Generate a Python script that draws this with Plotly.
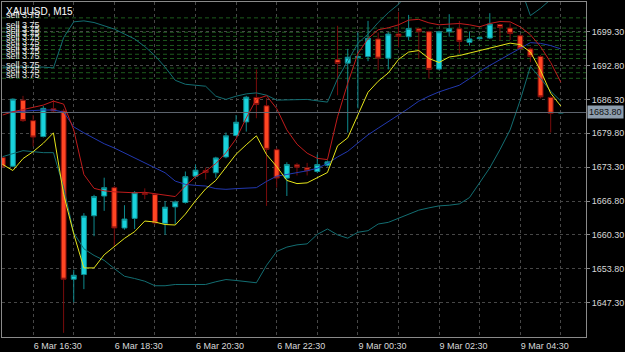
import pandas as pd
import plotly.graph_objects as go

# ---------------- data ----------------
symbol_title = "XAUUSD, M15"

friday = pd.date_range("2020-03-06 15:45", "2020-03-06 23:45", freq="15min")
monday = pd.date_range("2020-03-09 00:00", "2020-03-09 05:30", freq="15min")
bar_times = [f"{d.day} {d:%b} {d:%H:%M}" for d in list(friday) + list(monday)]

opens = [1675.14, 1673.48, 1686.17, 1682.23, 1679.19, 1684.52, 1684.08, 1651.79, 1652.69, 1663.97,
         1667.77, 1669.37, 1661.63, 1663.47, 1668.29, 1668.04, 1662.52, 1665.68, 1666.52, 1671.58,
         1672.66, 1672.23, 1675.27, 1679.38, 1681.99, 1686.69, 1685.09, 1676.66, 1671.20, 1673.75,
         1673.18, 1672.47, 1673.67, 1693.92, 1693.27, 1694.35, 1694.54, 1697.91, 1694.22, 1698.86,
         1698.35, 1699.87, 1699.30, 1692.13, 1699.30, 1699.87, 1697.26, 1697.97, 1698.10, 1700.69,
         1700.00, 1698.54, 1696.01, 1694.54, 1686.69, 1683.70]
highs = [1675.30, 1686.50, 1686.99, 1683.32, 1685.03, 1686.17, 1684.50, 1653.60, 1664.48, 1668.00,
         1671.28, 1669.70, 1666.00, 1668.70, 1669.24, 1668.30, 1666.77, 1666.90, 1672.47, 1673.80,
         1673.23, 1675.30, 1679.95, 1683.32, 1687.00, 1692.07, 1686.55, 1677.00, 1674.24, 1674.13,
         1674.13, 1675.71, 1674.60, 1700.44, 1696.01, 1699.17, 1701.39, 1699.17, 1699.20, 1703.11,
         1702.53, 1700.10, 1699.50, 1699.50, 1702.67, 1701.39, 1699.36, 1698.30, 1702.86, 1700.88,
         1700.88, 1698.80, 1696.30, 1694.80, 1686.90, 1683.85]
lows = [1673.20, 1673.30, 1682.00, 1677.29, 1679.00, 1683.70, 1641.50, 1647.36, 1649.89, 1660.05,
        1664.92, 1657.96, 1661.30, 1661.44, 1667.15, 1662.30, 1660.30, 1662.39, 1666.30, 1671.40,
        1670.95, 1671.27, 1675.00, 1679.20, 1680.14, 1682.69, 1665.87, 1669.37, 1667.77, 1671.71,
        1671.71, 1672.20, 1673.40, 1687.12, 1679.95, 1684.59, 1693.65, 1691.88, 1692.07, 1696.31,
        1697.72, 1694.11, 1690.30, 1691.90, 1698.35, 1695.17, 1696.64, 1697.80, 1697.90, 1697.59,
        1697.72, 1695.80, 1693.46, 1686.50, 1679.95, 1683.65]
closes = [1673.42, 1686.36, 1682.23, 1679.08, 1684.59, 1684.08, 1651.79, 1652.55, 1663.91, 1667.66,
          1669.37, 1661.63, 1663.34, 1668.42, 1668.06, 1662.58, 1665.62, 1666.63, 1671.47, 1672.72,
          1672.28, 1675.08, 1679.32, 1681.93, 1686.74, 1685.35, 1676.72, 1671.20, 1673.80, 1673.29,
          1672.61, 1673.80, 1674.32, 1693.21, 1694.41, 1694.54, 1698.03, 1694.22, 1698.86, 1698.41,
          1699.93, 1699.30, 1692.07, 1699.30, 1699.87, 1697.45, 1697.91, 1698.16, 1700.76, 1700.12,
          1698.98, 1696.01, 1694.54, 1686.80, 1683.64, 1683.80]

bb_upper = [1692.51, 1692.51, 1692.51, 1692.51, 1692.51, 1692.36, 1698.16, 1701.20, 1701.39, 1701.07,
            1700.44, 1699.81, 1698.86, 1697.91, 1696.45, 1694.73, 1692.51, 1689.98, 1689.22, 1688.97,
            1688.84, 1686.93, 1686.31, 1686.93, 1687.37, 1687.56, 1687.12, 1686.17, 1686.17, 1686.31,
            1686.31, 1686.04, 1685.79, 1690.30, 1693.78, 1697.07, 1698.86, 1701.07, 1702.97, 1704.57,
            1706.80, 1708.50, 1709.80, 1710.80, 1711.30, 1711.50, 1711.40, 1711.00, 1710.30, 1709.50,
            1708.80, 1707.90, 1702.40, 1703.80, 1705.50, 1706.20]
bb_middle = [1683.79, 1683.95, 1684.08, 1684.17, 1684.27, 1684.27, 1683.89, 1681.04, 1679.89, 1678.85,
             1677.80, 1676.98, 1676.03, 1675.08, 1674.13, 1673.18, 1672.23, 1670.63, 1670.00, 1669.81,
             1669.68, 1669.18, 1669.05, 1669.18, 1669.24, 1669.37, 1670.57, 1671.58, 1671.90, 1672.23,
             1672.61, 1673.10, 1674.00, 1675.27, 1676.34, 1677.93, 1679.51, 1680.79, 1681.99, 1683.32,
             1684.59, 1685.98, 1686.93, 1687.75, 1688.40, 1689.03, 1690.30, 1691.69, 1692.83, 1693.92,
             1695.06, 1696.12, 1697.21, 1697.07, 1696.64, 1696.01]
bb_lower = [1675.33, 1675.90, 1676.47, 1676.28, 1676.09, 1676.09, 1669.43, 1660.68, 1657.63, 1656.36,
            1655.41, 1653.83, 1652.36, 1651.93, 1651.41, 1650.54, 1650.54, 1650.78, 1650.78, 1650.78,
            1650.78, 1651.30, 1651.73, 1651.55, 1651.30, 1651.11, 1654.46, 1657.12, 1657.96, 1658.39,
            1658.58, 1660.39, 1661.44, 1660.30, 1659.67, 1660.81, 1661.11, 1662.39, 1662.71, 1663.47,
            1664.29, 1665.05, 1665.49, 1665.87, 1666.00, 1666.25, 1667.47, 1670.32, 1673.18, 1676.66,
            1680.46, 1686.17, 1692.64, 1690.36, 1687.88, 1685.98]
ma_red = [1683.32, 1683.95, 1684.36, 1684.84, 1685.22, 1685.98, 1685.41, 1680.46, 1671.90, 1669.24,
          1668.76, 1668.57, 1668.48, 1668.38, 1668.48, 1668.23, 1667.91, 1667.66, 1669.68, 1671.47,
          1672.53, 1674.00, 1676.09, 1678.75, 1682.75, 1686.36, 1687.03, 1684.55, 1680.46, 1677.71,
          1675.99, 1675.00, 1674.76, 1683.00, 1689.41, 1695.11, 1697.97, 1699.68, 1700.06, 1700.63,
          1701.53, 1701.68, 1701.01, 1700.63, 1700.77, 1700.88, 1700.63, 1700.25, 1700.88, 1701.26,
          1701.20, 1700.25, 1698.73, 1696.45, 1693.40, 1689.60]
ma_yellow = [1673.81, 1672.66, 1674.95, 1676.28, 1677.90, 1679.89, 1668.10, 1660.49, 1653.96, 1653.96,
             1656.49, 1658.01, 1659.63, 1660.92, 1662.96, 1662.77, 1662.29, 1662.20, 1664.29, 1666.86,
             1669.14, 1670.76, 1673.23, 1675.80, 1677.61, 1679.32, 1675.71, 1673.42, 1670.76, 1670.15,
             1670.29, 1671.33, 1672.28, 1677.42, 1678.94, 1683.32, 1687.69, 1689.79, 1691.40, 1693.97,
             1695.40, 1695.69, 1694.16, 1693.40, 1694.45, 1694.73, 1695.21, 1695.69, 1696.16, 1696.64,
             1697.11, 1696.83, 1695.40, 1691.88, 1687.50, 1685.03]

sell_prices = [1701.96, 1700.00, 1699.20, 1698.41, 1697.63, 1696.67, 1695.88, 1694.98, 1694.16,
               1692.32, 1691.44, 1690.36]
sell_lots = [3.75] * len(sell_prices)

price_ticks = [1647.30, 1653.80, 1660.30, 1666.80, 1673.30, 1679.80, 1686.30, 1692.80, 1699.30]
y_range = [1640.70, 1705.01]

# ---------------- figure ----------------
grid_times = [t for t in bar_times if t.endswith(":30")]
grid_text = [t if int(t[-5:-3]) % 2 == 0 else "" for t in grid_times]

fig = go.Figure()

line_specs = [
    (bb_upper, "#136e72"),
    (bb_lower, "#136e72"),
    (bb_middle, "#2238b0"),
    (ma_red, "#c01c1c"),
    (ma_yellow, "#e6e61a"),
]
for vals, col in line_specs:
    fig.add_trace(go.Scatter(x=bar_times, y=vals, mode="lines",
                             line=dict(color=col, width=1), hoverinfo="skip"))

fig.add_trace(go.Candlestick(
    x=bar_times, open=opens, high=highs, low=lows, close=closes,
    increasing=dict(line=dict(color="#0e8a8e", width=1), fillcolor="#19d2dc"),
    decreasing=dict(line=dict(color="#7a0c0c", width=1), fillcolor="#ff4623"),
    whiskerwidth=0, hoverinfo="skip",
))

shapes = []
for p in sell_prices:
    shapes.append(dict(type="line", xref="paper", x0=0, x1=1, yref="y", y0=p, y1=p,
                       line=dict(color="#1d5a1d", width=1, dash="4px,3px"), layer="below"))
last_price = closes[-1]
shapes.append(dict(type="line", xref="paper", x0=0, x1=1, yref="y", y0=last_price, y1=last_price,
                   line=dict(color="#5f6670", width=1)))

annotations = [dict(xref="paper", yref="paper", x=0.004, y=0.995, xanchor="left", yanchor="top",
                    text=symbol_title, showarrow=False,
                    font=dict(family="Liberation Sans", size=10, color="#ffffff"))]
for p, lot in zip(sell_prices, sell_lots):
    annotations.append(dict(xref="paper", yref="y", x=0.005, y=p, xanchor="left", yanchor="bottom",
                            yshift=-3, text=f"sell {lot:.2f}", showarrow=False, borderpad=0,
                            font=dict(family="Liberation Sans", size=9, color="#e8e8e8")))
annotations.append(dict(xref="paper", yref="y", x=1, y=last_price, xanchor="left", yanchor="middle",
                        xshift=1, text=f"{last_price:.2f}", showarrow=False, bgcolor="#8d9dad",
                        borderpad=1, font=dict(family="Liberation Sans", size=9, color="#111111")))

fig.update_layout(
    width=625, height=352,
    margin=dict(l=1, r=37, t=1, b=13, pad=0),
    paper_bgcolor="#000000", plot_bgcolor="#000000",
    showlegend=False, boxgap=0.3,
    shapes=shapes, annotations=annotations,
    xaxis=dict(type="category", range=[-0.07, 57.48], rangeslider=dict(visible=False),
               tickmode="array", tickvals=grid_times, ticktext=grid_text,
               ticklabelposition="outside right",
               showgrid=True, gridcolor="#474747", griddash="3px,3px", gridwidth=1,
               showline=True, linecolor="#8a8a8a", mirror=True, ticks="",
               tickfont=dict(family="Liberation Sans", size=9, color="#d8d8d8"),
               zeroline=False, fixedrange=True),
    yaxis=dict(side="right", range=y_range, tickmode="array", tickvals=price_ticks,
               ticktext=[f"{v:.2f}" for v in price_ticks],
               showgrid=True, gridcolor="#474747", griddash="3px,3px", gridwidth=1,
               showline=True, linecolor="#8a8a8a", mirror=True,
               ticks="outside", ticklen=3, tickcolor="#8a8a8a",
               tickfont=dict(family="Liberation Sans", size=9, color="#d8d8d8"),
               zeroline=False, fixedrange=True),
)

fig.write_html("out.html")
